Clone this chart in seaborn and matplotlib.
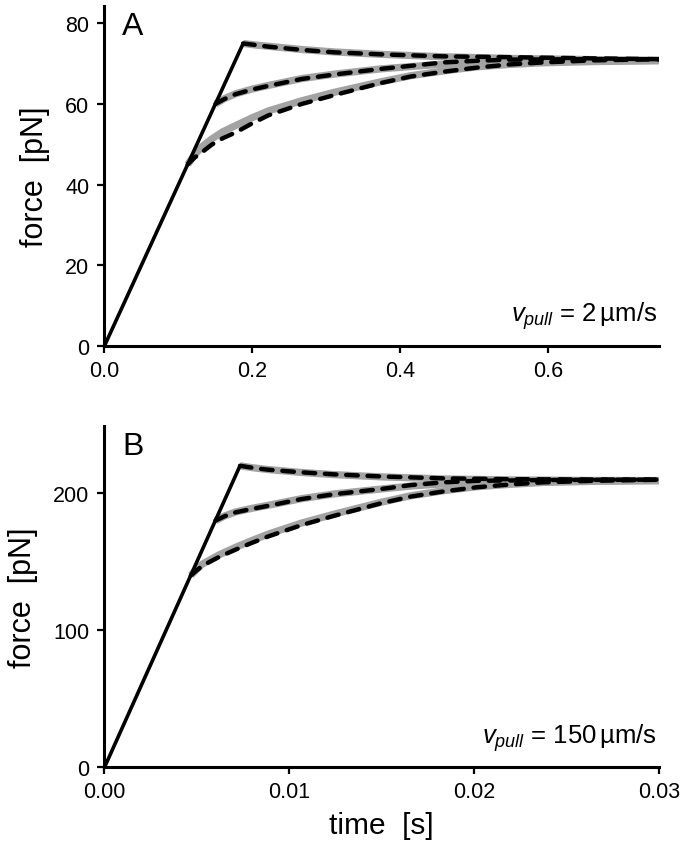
import matplotlib
matplotlib.use('Agg')
import matplotlib.pyplot as plt
import seaborn as sns

# ---------------- data ----------------
# Panel A  (v_pull = 2 um/s)
rampA_t = [0.0, 0.1875]
rampA_F = [0.0, 75.0]

upA_t = [0.1875, 0.205, 0.222, 0.245, 0.267, 0.311, 0.374, 0.459, 0.548, 0.66, 0.75]
upA_gray = [75.0, 74.6, 74.3, 73.9, 73.5, 72.9, 72.3, 71.7, 71.3, 71.0, 70.8]
upA_dash = [75.0, 74.6, 74.2, 73.8, 73.4, 72.8, 72.3, 71.8, 71.6, 71.3, 71.1]

midA_t = [0.15, 0.162, 0.177, 0.2, 0.222, 0.267, 0.311, 0.374, 0.459, 0.503, 0.548, 0.66, 0.75]
midA_gray = [60.0, 61.3, 62.5, 63.7, 64.6, 66.3, 67.4, 68.7, 69.9, 70.2, 70.4, 70.7, 70.8]
midA_dash = [60.0, 61.2, 62.4, 63.6, 64.5, 66.2, 67.3, 68.7, 70.3, 70.7, 71.0, 71.1, 71.1]

lowA_t = [0.1125, 0.122, 0.1325, 0.145, 0.16, 0.177, 0.2, 0.222, 0.267, 0.311,
          0.374, 0.414, 0.459, 0.503, 0.548, 0.593, 0.66, 0.75]
lowA_gray = [45.0, 47.4, 49.5, 51.3, 53.1, 54.6, 56.6, 58.3, 60.8, 62.9,
             65.5, 67.0, 68.2, 69.2, 69.8, 70.2, 70.5, 70.7]
lowA_dash = [45.0, 46.7, 48.1, 49.9, 51.5, 52.9, 55.2, 57.2, 60.0, 62.2,
             65.2, 66.8, 68.0, 69.0, 69.8, 70.3, 70.8, 71.1]

# Panel B  (v_pull = 150 um/s)
rampB_t = [0.0, 0.00733]
rampB_F = [0.0, 220.0]

upB_t = [0.00733, 0.0081, 0.00887, 0.01066, 0.01245, 0.01495, 0.01835, 0.0219, 0.026, 0.03]
upB_gray = [220.0, 218.4, 217.2, 215.1, 213.5, 211.9, 210.4, 209.7, 209.3, 209.2]
upB_dash = [220.0, 218.3, 217.1, 215.2, 213.7, 212.2, 210.8, 210.2, 210.0, 209.9]

midB_t = [0.006, 0.0065, 0.00709, 0.008, 0.00887, 0.01066, 0.01245, 0.01495, 0.01656,
          0.01835, 0.02013, 0.024, 0.03]
midB_gray = [180.0, 183.4, 186.3, 189.0, 191.2, 196.0, 199.5, 203.0, 205.2,
             206.8, 207.8, 208.8, 209.2]
midB_dash = [180.0, 183.2, 186.0, 188.6, 190.8, 195.7, 199.3, 203.0, 205.9,
             207.9, 209.0, 209.6, 209.9]

lowB_t = [0.00467, 0.0050, 0.0053, 0.0062, 0.00709, 0.008, 0.00887, 0.01066, 0.01245,
          0.01495, 0.01656, 0.01835, 0.02013, 0.0219, 0.0237, 0.0264, 0.03]
lowB_gray = [140.0, 144.5, 148.3, 155.0, 160.5, 165.6, 170.2, 178.2, 184.8,
             193.3, 198.1, 201.8, 204.7, 206.4, 207.8, 208.6, 209.2]
lowB_dash = [140.0, 143.8, 147.1, 153.5, 158.8, 163.9, 168.5, 176.7, 183.6,
             192.6, 197.5, 201.3, 204.3, 206.3, 207.9, 209.0, 209.8]

xticksA = [0.0, 0.2, 0.4, 0.6]
xtickA_labels = ['0.0', '0.2', '0.4', '0.6']
yticksA = [0, 20, 40, 60, 80]
xticksB = [0.0, 0.01, 0.02, 0.03]
xtickB_labels = ['0.00', '0.01', '0.02', '0.03']
yticksB = [0, 100, 200]

# ---------------- style ----------------
sns.set_style('ticks')
plt.rcParams['font.family'] = ['Liberation Sans', 'DejaVu Sans']
plt.rcParams['mathtext.fontset'] = 'custom'
plt.rcParams['mathtext.rm'] = 'Liberation Sans'
plt.rcParams['mathtext.it'] = 'Liberation Sans:italic'
plt.rcParams['text.color'] = 'black'
plt.rcParams['axes.labelcolor'] = 'black'
plt.rcParams['xtick.color'] = 'black'
plt.rcParams['ytick.color'] = 'black'

GRAY = '#a3a3a3'
fig = plt.figure(figsize=(6.83, 8.53), dpi=100)
axA = fig.add_axes([0.153, 0.5935, 0.812, 0.3983])
axB = fig.add_axes([0.153, 0.0993, 0.812, 0.4001])


def draw(ax, ramp_t, ramp_F, curves):
    for t, g, d in curves:
        sns.lineplot(x=t, y=g, ax=ax, color=GRAY, linewidth=5.2,
                     estimator=None, sort=False, solid_capstyle='butt')
    sns.lineplot(x=ramp_t, y=ramp_F, ax=ax, color='black', linewidth=2.6,
                 estimator=None, sort=False)
    for t, g, d in curves:
        sns.lineplot(x=t, y=d, ax=ax, color='black', linewidth=3.2,
                     estimator=None, sort=False)
        line = ax.lines[-1]
        line.set_dashes((2.6, 2.2))
        line.set_dash_capstyle('round')


draw(axA, rampA_t, rampA_F,
     [(upA_t, upA_gray, upA_dash), (midA_t, midA_gray, midA_dash),
      (lowA_t, lowA_gray, lowA_dash)])
draw(axB, rampB_t, rampB_F,
     [(upB_t, upB_gray, upB_dash), (midB_t, midB_gray, midB_dash),
      (lowB_t, lowB_gray, lowB_dash)])

for ax in (axA, axB):
    sns.despine(ax=ax)
    for s in ('left', 'bottom'):
        ax.spines[s].set_linewidth(2.2)
        ax.spines[s].set_color('black')
    ax.tick_params(axis='both', direction='out', length=5, width=1.6,
                   labelsize=15.5, colors='black', pad=5)
    ax.tick_params(axis='y', pad=6)
    ax.set_ylabel('force  [pN]', fontsize=22, labelpad=11)

axA.set_xlim(0, 0.75)
axA.set_ylim(0, 84.3)
axA.set_xticks(xticksA)
axA.set_xticklabels(xtickA_labels)
axA.set_yticks(yticksA)
axA.set_xlabel('')

axB.set_xlim(0, 0.03)
axB.set_ylim(0, 249)
axB.set_xticks(xticksB)
axB.set_xticklabels(xtickB_labels)
axB.set_yticks(yticksB)
axB.set_xlabel('time  [s]', fontsize=21.5, labelpad=6)

axA.text(0.032, 0.985, 'A', transform=axA.transAxes, fontsize=23,
         ha='left', va='top')
axB.text(0.032, 0.985, 'B', transform=axB.transAxes, fontsize=23,
         ha='left', va='top')
axA.text(0.997, 0.074, r'$v_{pull}$ = 2$\,$µm/s', transform=axA.transAxes,
         fontsize=18.5, ha='right', va='baseline')
axB.text(0.997, 0.073, r'$v_{pull}$ = 150$\,$µm/s', transform=axB.transAxes,
         fontsize=18.5, ha='right', va='baseline')

fig.savefig('out.png', dpi=100)
